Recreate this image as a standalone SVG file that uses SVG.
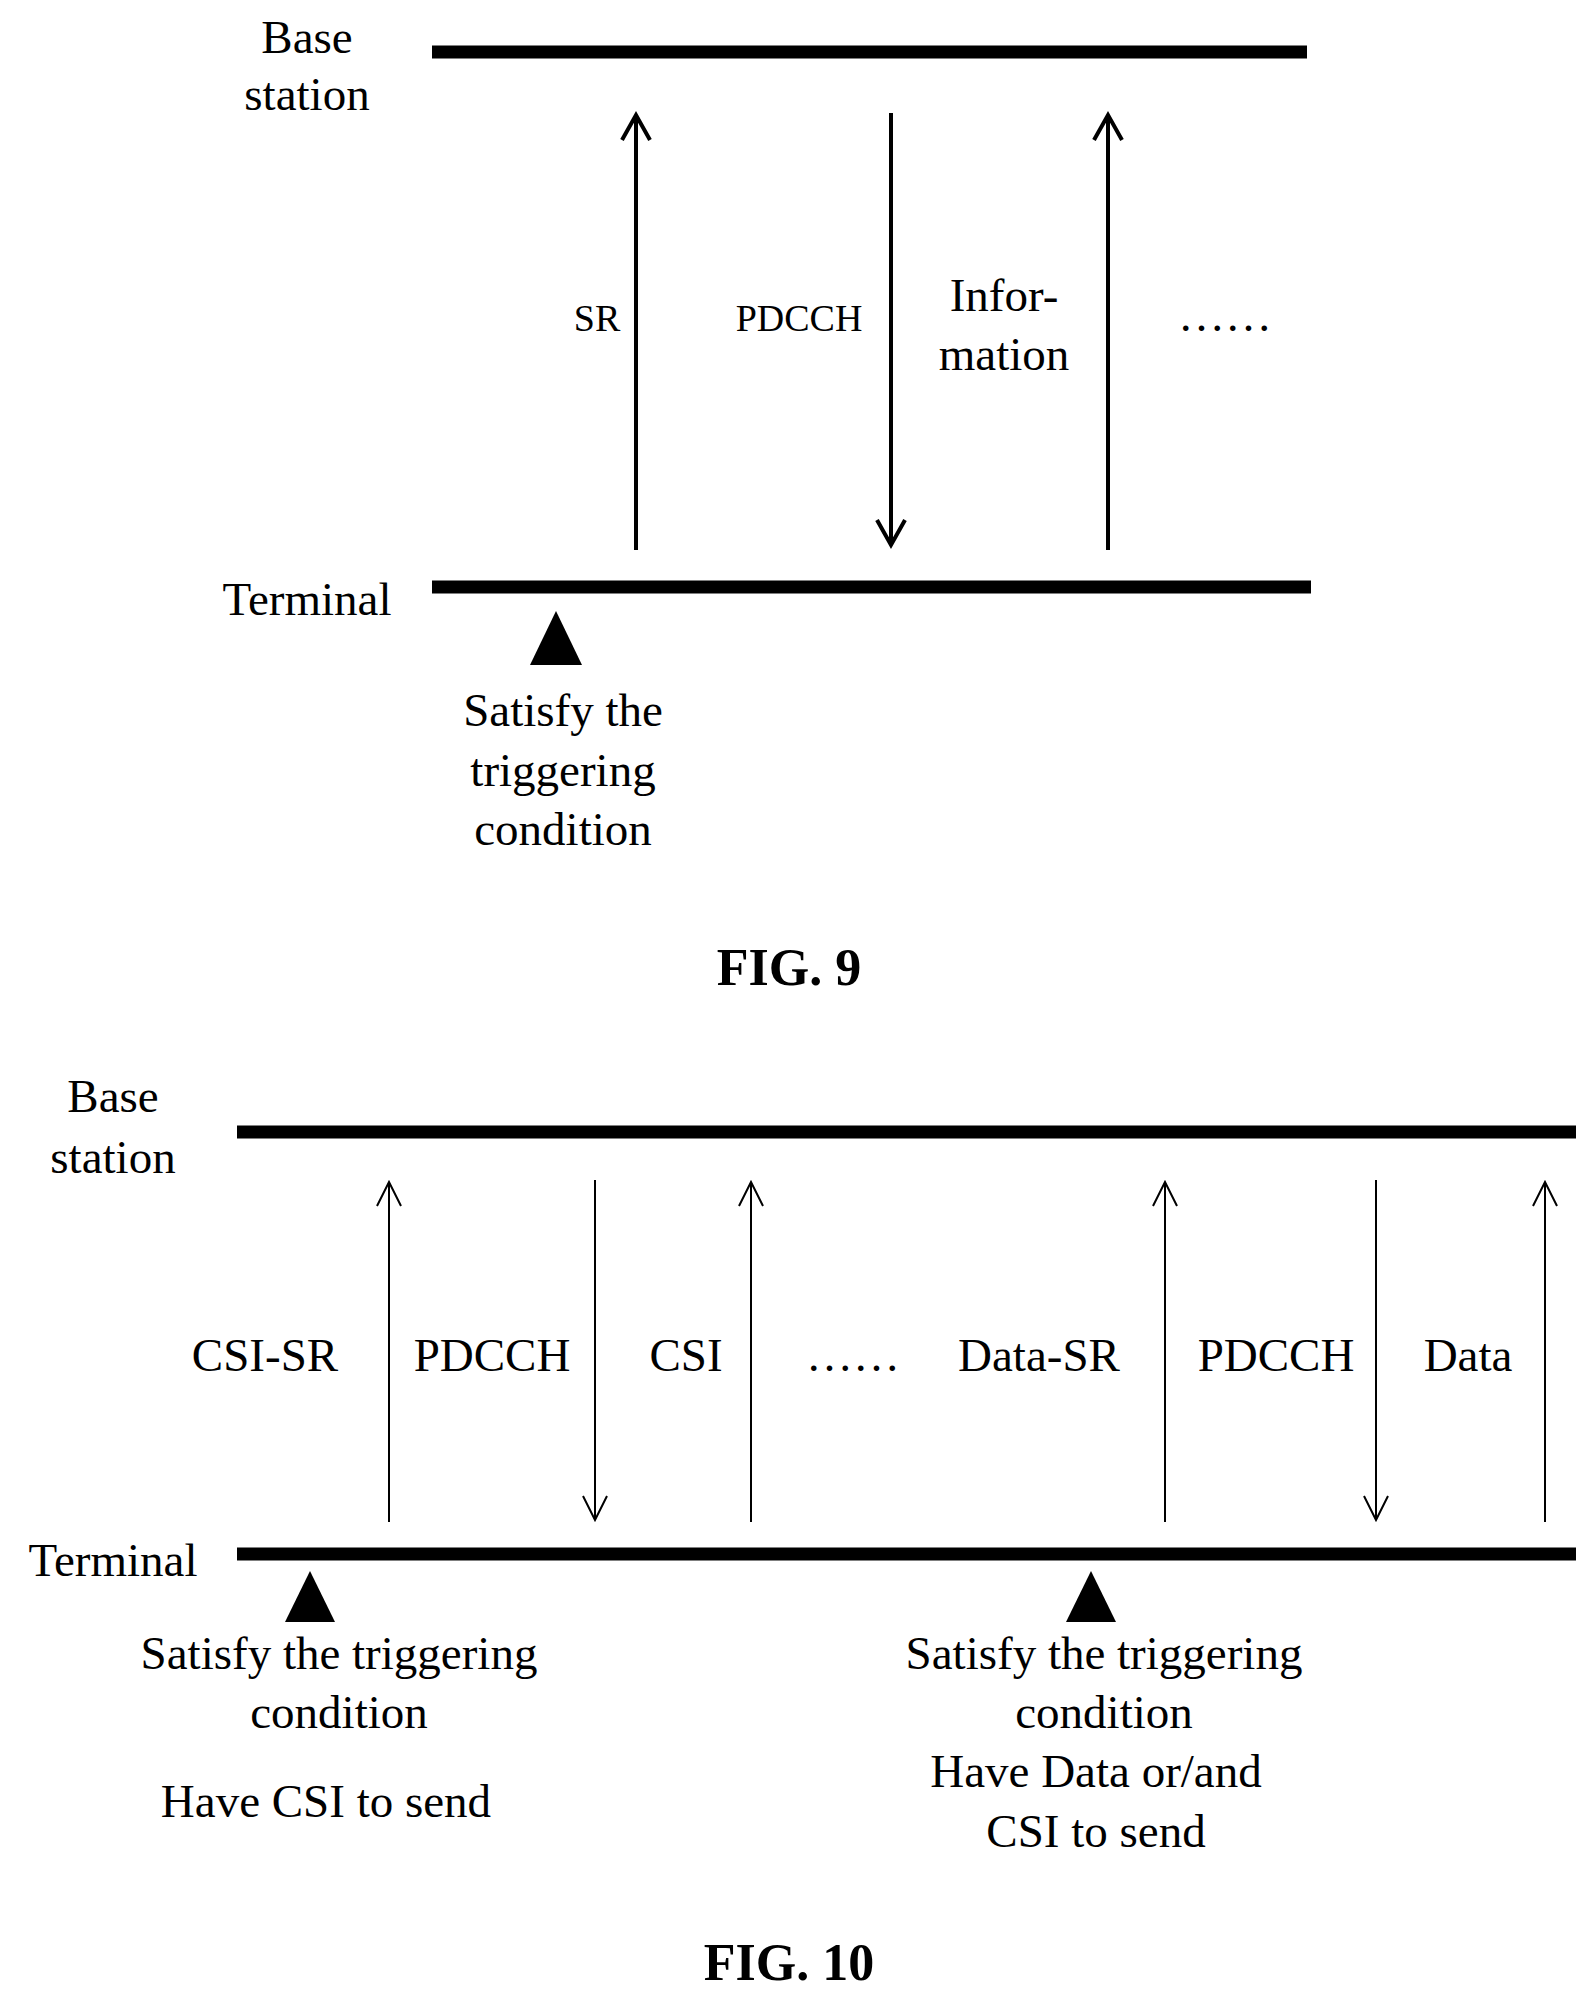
<svg xmlns="http://www.w3.org/2000/svg" width="1592" height="1999" viewBox="0 0 1592 1999">
<style>
text{font-family:"Liberation Serif",serif;font-size:47px;fill:#000;text-anchor:middle}
.fig{font-weight:bold;font-size:52px}
.bar{stroke:#000;stroke-width:13}
.thick{stroke:#000;stroke-width:4;fill:none}
.thin{stroke:#000;stroke-width:2;fill:none}
</style>
<rect width="1592" height="1999" fill="#fff"/>
<g id="fig9">
<g id="bs9"><line class="bar" x1="432" y1="52" x2="1307" y2="52"/><text x="307" y="53">Base</text><text x="307" y="110">station</text></g>
<g id="term9"><line class="bar" x1="432" y1="587" x2="1311" y2="587"/><text x="307" y="615">Terminal</text></g>
<g id="trig9"><polygon points="556,611 530,665 582,665"/><text x="563" y="726">Satisfy the</text><text x="563" y="786">triggering</text><text x="563" y="845">condition</text></g>
<g id="conn9">
<path class="thick" d="M636 550V115M622 140L636 115L650 140"/>
<path class="thick" d="M891 113V545M877 520L891 545L905 520"/>
<path class="thick" d="M1108 550V115M1094 140L1108 115L1122 140"/>
</g>
<text x="597" y="331" style="font-size:38px">SR</text>
<text x="799" y="331" style="font-size:38px">PDCCH</text>
<text x="1004" y="311">Infor-</text>
<text x="1004" y="370">mation</text>
<text x="1225" y="331">……</text>
<text class="fig" x="789" y="985">FIG. 9</text>
</g>
<g id="fig10">
<g id="bs10"><line class="bar" x1="237" y1="1132" x2="1576" y2="1132"/><text x="113" y="1112">Base</text><text x="113" y="1173">station</text></g>
<g id="term10"><line class="bar" x1="237" y1="1554" x2="1576" y2="1554"/><text x="113" y="1576">Terminal</text></g>
<g id="trig10a"><polygon points="310,1571 285,1622 335,1622"/><text x="339" y="1669">Satisfy the triggering</text><text x="339" y="1728">condition</text><text x="326" y="1817">Have CSI to send</text></g>
<g id="trig10b"><polygon points="1091,1571 1066,1622 1116,1622"/><text x="1104" y="1669">Satisfy the triggering</text><text x="1104" y="1728">condition</text><text x="1096" y="1787">Have Data or/and</text><text x="1096" y="1847">CSI to send</text></g>
<g id="conn10">
<path class="thin" d="M389 1522V1182M377 1206L389 1182L401 1206"/>
<path class="thin" d="M595 1180V1520M583 1496L595 1520L607 1496"/>
<path class="thin" d="M751 1522V1182M739 1206L751 1182L763 1206"/>
<path class="thin" d="M1165 1522V1182M1153 1206L1165 1182L1177 1206"/>
<path class="thin" d="M1376 1180V1520M1364 1496L1376 1520L1388 1496"/>
<path class="thin" d="M1545 1522V1182M1533 1206L1545 1182L1557 1206"/>
</g>
<text x="265" y="1371">CSI-SR</text>
<text x="492" y="1371">PDCCH</text>
<text x="686" y="1371">CSI</text>
<text x="853" y="1371">……</text>
<text x="1039" y="1371">Data-SR</text>
<text x="1276" y="1371">PDCCH</text>
<text x="1468" y="1371">Data</text>
<text class="fig" x="789" y="1980">FIG. 10</text>
</g>
</svg>
